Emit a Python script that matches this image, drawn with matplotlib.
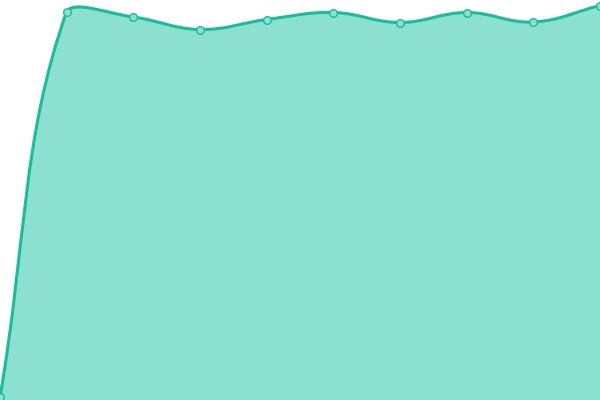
import numpy as np
import matplotlib
matplotlib.use("Agg")
import matplotlib.pyplot as plt
from matplotlib.path import Path
from matplotlib.patches import PathPatch

labels = ["P1", "P2", "P3", "P4", "P5", "P6", "P7", "P8", "P9", "P10"]
values = [3, 388.5, 383, 370.5, 380.5, 387.5, 377.5, 387.5, 378, 394.5]

line_color = "#1abc9c"
fill_color = "#8be0cf"

fig = plt.figure(figsize=(6, 4), dpi=100)
ax = fig.add_axes([0, 0, 1, 1])
ax.set_xlim(0, len(values) - 1)
ax.set_ylim(0, 400)
ax.axis("off")

x = np.arange(len(values), dtype=float)
y = np.array(values, dtype=float)

# Chart.js style spline in display space, control points capped to the area
pts = ax.transData.transform(np.column_stack([x, y]))
bb = ax.bbox
t = 0.4
n = len(pts)
cp_prev = pts.copy()
cp_next = pts.copy()
for i in range(n):
    prev = pts[i - 1] if i > 0 else pts[i]
    cur = pts[i]
    nxt = pts[i + 1] if i < n - 1 else pts[i]
    d01 = np.hypot(*(cur - prev))
    d12 = np.hypot(*(nxt - cur))
    tot = d01 + d12
    s01 = d01 / tot if tot else 0
    s12 = d12 / tot if tot else 0
    cp_prev[i] = cur - t * s01 * (nxt - prev)
    cp_next[i] = cur + t * s12 * (nxt - prev)

for cp in (cp_prev, cp_next):
    cp[:, 0] = np.clip(cp[:, 0], bb.x0, bb.x1)
    cp[:, 1] = np.clip(cp[:, 1], bb.y0, bb.y1)

inv = ax.transData.inverted()
verts = [pts[0]]
codes = [Path.MOVETO]
for i in range(n - 1):
    verts += [cp_next[i], cp_prev[i + 1], pts[i + 1]]
    codes += [Path.CURVE4] * 3
verts = inv.transform(np.array(verts))

line_path = Path(verts, codes)
fill_verts = np.vstack([verts, [[x[-1], 0], [x[0], 0], verts[0]]])
fill_codes = codes + [Path.LINETO, Path.LINETO, Path.CLOSEPOLY]
fill_path = Path(fill_verts, fill_codes)

ax.add_patch(PathPatch(fill_path, facecolor=fill_color, edgecolor="none", zorder=1))
ax.add_patch(PathPatch(line_path, facecolor="none", edgecolor=line_color, lw=2.2, zorder=2))
ax.plot(x, y, "o", ms=5.5, mfc="#8be0cf", mec=line_color, mew=1, zorder=3, clip_on=False)

fig.savefig("out.png", dpi=100)
